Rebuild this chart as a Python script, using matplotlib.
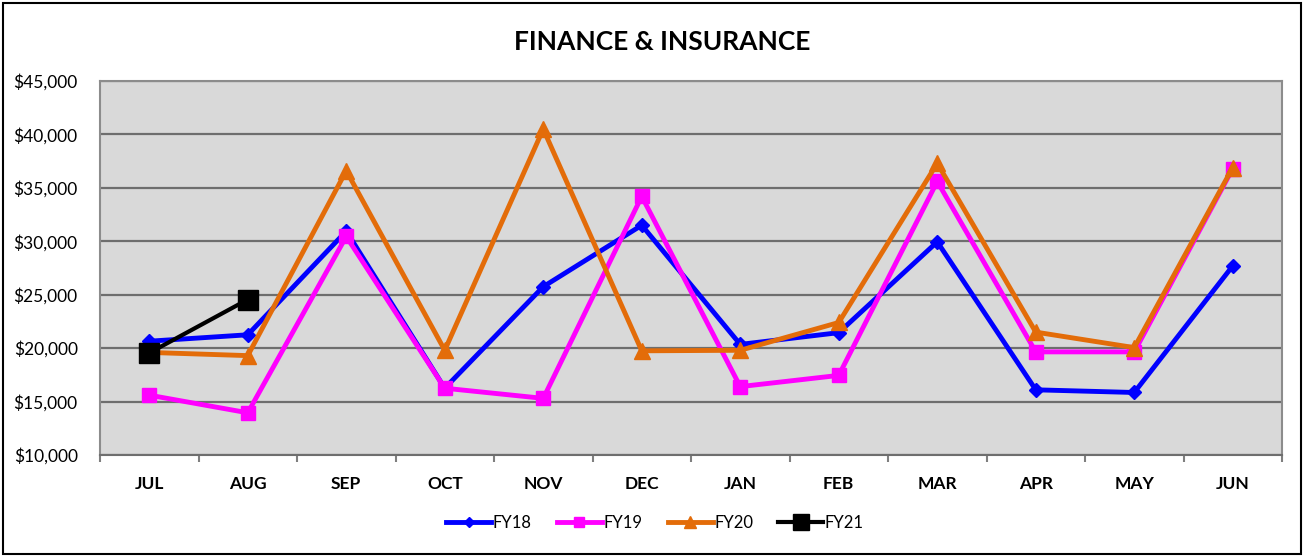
import matplotlib
matplotlib.use("Agg")
import matplotlib.pyplot as plt
from matplotlib.ticker import FuncFormatter, FixedLocator, NullFormatter
from matplotlib.patches import Rectangle

months = ["JUL", "AUG", "SEP", "OCT", "NOV", "DEC", "JAN", "FEB", "MAR", "APR", "MAY", "JUN"]
fy18 = [20650, 21250, 30950, 16250, 25750, 31500, 20350, 21450, 29950, 16100, 15850, 27700]
fy19 = [15600, 13950, 30450, 16250, 15300, 34200, 16400, 17450, 35600, 19650, 19650, 36800]
fy20 = [19600, 19300, 36600, 19800, 40500, 19750, 19800, 22400, 37300, 21500, 20050, 36900]
fy21 = [19550, 24550]

plt.rcParams['font.family'] = ['Lato', 'DejaVu Sans']

fig = plt.figure(figsize=(13.04, 5.57), dpi=100)
ax = fig.add_axes([100/1304, 1 - 455/557, (1282-100)/1304, (455-81)/557])
ax.set_facecolor('#D9D9D9')

x = list(range(len(months)))
ax.plot(x, fy18, color='#0000FF', lw=3.5, marker='D', ms=7, label='FY18', zorder=3)
ax.plot(x, fy19, color='#FF00FF', lw=3.5, marker='s', ms=10, label='FY19', zorder=4)
ax.plot(x, fy20, color='#E36C09', lw=3.5, marker='^', ms=12, label='FY20', zorder=5)
ax.plot(x[:len(fy21)], fy21, color='#000000', lw=3, marker='s', ms=15, label='FY21', zorder=6)

ax.set_xlim(-0.5, len(months) - 0.5)
ax.set_ylim(10000, 45000)
ax.set_yticks(range(10000, 45001, 5000))
ax.yaxis.set_major_formatter(FuncFormatter(lambda v, p: f"${int(v):,}"))
ax.yaxis.grid(True, color='#6E6E6E', lw=1.6)
ax.set_axisbelow(True)
ax.tick_params(axis='y', length=0, labelsize=12.5, pad=16)

ax.set_xticks(x)
ax.set_xticklabels(months, fontweight='bold', fontsize=12.5)
ax.tick_params(axis='x', which='major', length=0, pad=15)
ax.xaxis.set_minor_locator(FixedLocator([i - 0.5 for i in range(len(months) + 1)]))
ax.xaxis.set_minor_formatter(NullFormatter())
ax.tick_params(axis='x', which='minor', length=5, width=1.5, color='#7F7F7F', direction='out')

for s in ax.spines.values():
    s.set_color('#8C8C8C')
    s.set_linewidth(1.5)
ax.spines['bottom'].set_color('#6E6E6E')

fig.text(662/1304, 1 - 42/557, "FINANCE & INSURANCE", ha='center', va='center',
         fontsize=19, fontweight='bold')

leg = fig.legend(loc='center', bbox_to_anchor=(655/1304, 1 - 523/557), ncol=4,
                 frameon=False, fontsize=12, handlelength=2.7, columnspacing=1.5,
                 handletextpad=0.1, markerscale=0.75)

fig.patches.append(Rectangle((3/1304, 3/557), 1 - 6/1304, 1 - 6/557, transform=fig.transFigure,
                             fill=False, edgecolor='black', lw=1.5))

fig.savefig("out.png", dpi=100)
